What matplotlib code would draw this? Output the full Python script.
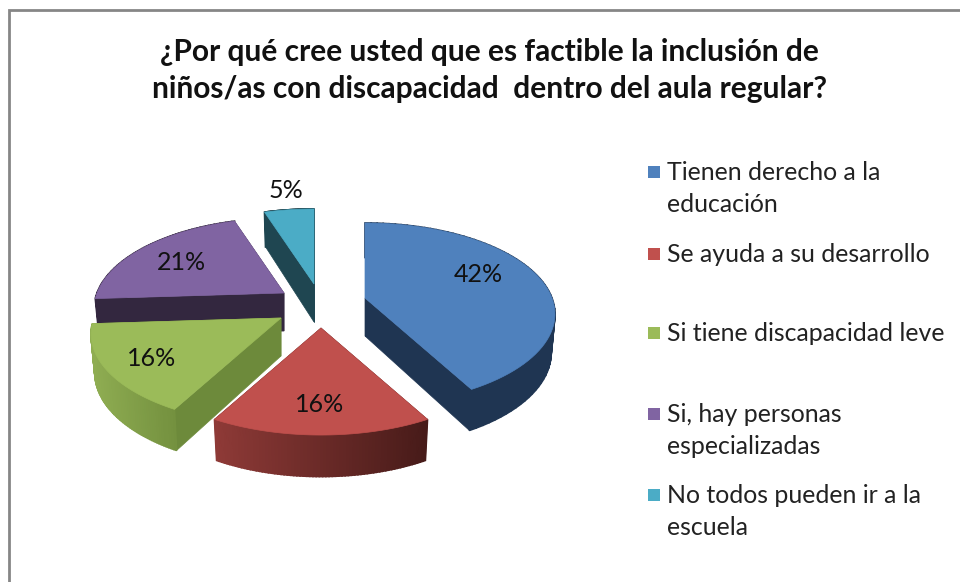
import matplotlib
matplotlib.use('Agg')
import matplotlib.pyplot as plt
from matplotlib.colors import to_rgb
from matplotlib.patches import Polygon
import numpy as np

titulo = '¿Por qué cree usted que es factible la inclusión de\nniños/as con discapacidad  dentro del aula regular?'
categorias = ['Tienen derecho a la\neducación', 'Se ayuda a su desarrollo', 'Si tiene discapacidad leve',
              'Si, hay personas\nespecializadas', 'No todos pueden ir a la\nescuela']
valores = [42, 16, 16, 21, 5]
etiquetas = ['42%', '16%', '16%', '21%', '5%']

colores = ['#4f81bd', '#c0504d', '#9bbb59', '#8064a2', '#4bacc6']
borde_izq = ['#1f3552', '#8f3a37', '#8fad52', '#33273f', '#1f4651']
borde_der = ['#1f3552', '#471b19', '#74913f', '#33273f', '#1f4651']
cara = ['#1f3552', '#471b19', '#6d8a3b', '#33273f', '#1f4651']

# layout in pixels of the 960x582 picture
centros = [(365, 298), (321, 328), (281, 318), (284, 293), (314, 284)]
pos_etiq = [(478, 275), (320, 405), (152, 359), (181, 263), (286, 191)]
pos_leyenda = [172, 254, 333, 414, 495]
A, B, K = 187, 88.2, 0.176
orden = [4, 3, 0, 2, 1]


def rim(theta, c):
    # perspective projection of the disc edge, theta clockwise from 12 o'clock
    x, y = np.sin(theta), np.cos(theta)
    w = 1 + K * y
    return c[0] + A * x / w, c[1] - B * y / w, 38 - 3.5 * y


fig = plt.figure(figsize=(9.6, 5.82), dpi=100)
ax = fig.add_axes([0, 0, 1, 1])
ax.set_xlim(0, 960)
ax.set_ylim(582, 0)
ax.axis('off')

ax.add_patch(plt.Rectangle((9, 10), 1000, 700, fc='white', ec='#868686', lw=2))

acum = np.cumsum([0] + valores) / sum(valores) * 2 * np.pi

for n, i in enumerate(orden):
    c = centros[i]
    t = np.linspace(acum[i], acum[i + 1], 70)
    xs, ys, prof = rim(t, c)
    xb = c[0] + (xs - c[0]) * 0.98
    yb = ys + prof
    z = n * 10
    # flat cut faces
    for k in (0, -1):
        q = [c, (xs[k], ys[k]), (xb[k], yb[k]), (c[0], c[1] + 38)]
        ax.add_patch(Polygon(q, fc=cara[i], ec=cara[i], lw=0.5, zorder=z + 1))
    # outer wall, shaded along x
    c1, c2 = np.array(to_rgb(borde_izq[i])), np.array(to_rgb(borde_der[i]))
    for j in range(len(t) - 1):
        f = (xs[j] - xs.min()) / (xs.max() - xs.min())
        col = c1 + (c2 - c1) * f
        q = [(xs[j], ys[j]), (xs[j + 1], ys[j + 1]), (xb[j + 1], yb[j + 1]), (xb[j], yb[j])]
        ax.add_patch(Polygon(q, fc=col, ec=col, lw=1.2, zorder=z + 2))
    ax.add_patch(Polygon(np.vstack([[c], np.column_stack([xs, ys])]), fc=colores[i], ec=colores[i], lw=0.5,
                         zorder=z + 3))

for e, p in zip(etiquetas, pos_etiq):
    ax.text(p[0], p[1], e, fontsize=18, family='Lato', color='#111111', ha='center', va='center', zorder=100)

ax.text(489, 70.5, titulo, fontsize=21.5, family='Lato', weight='bold', color='#111111', ha='center', va='center',
        linespacing=1.37, zorder=100)

for y, nom, col in zip(pos_leyenda, categorias, colores):
    ax.add_patch(plt.Rectangle((648, y - 6), 12, 12, fc=col, ec='none', zorder=100))
    ax.text(667, y - 11, nom, fontsize=17.9, family='Lato', color='#222222', ha='left', va='top',
            linespacing=1.47, zorder=100)

fig.savefig('out.png', dpi=100)
